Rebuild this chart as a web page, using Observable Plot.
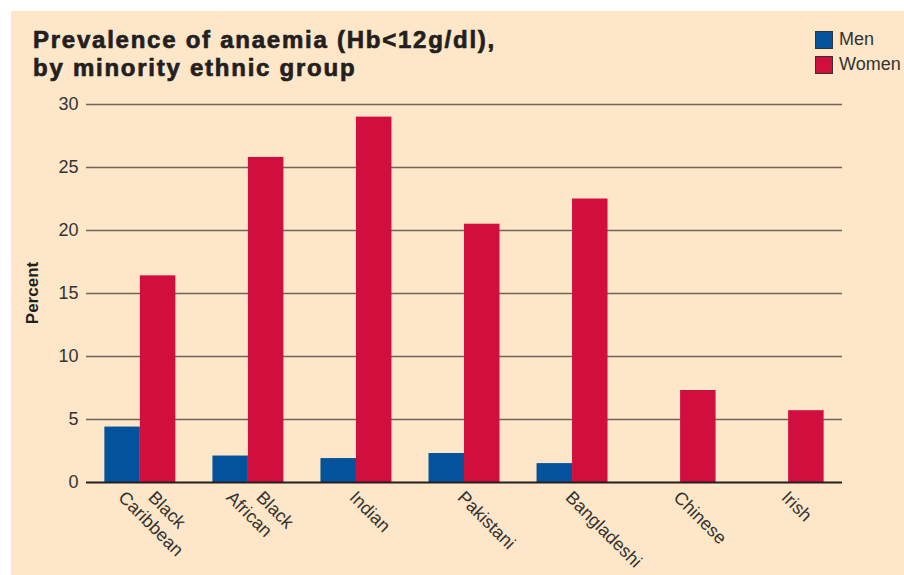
<!DOCTYPE html>
<html><head><meta charset="utf-8">
<script src="https://cdn.jsdelivr.net/npm/d3@7"></script>
<script src="https://cdn.jsdelivr.net/npm/@observablehq/plot@0.6"></script>
<style>
html,body{margin:0;padding:0;background:#fff;}
#card{position:absolute;left:11px;top:11px;width:893px;height:564px;background:#fee6c8;font-family:"Liberation Sans",Arial,sans-serif;overflow:hidden}
#title{position:absolute;left:22px;top:15px;font-size:24px;line-height:28px;font-weight:bold;color:#231f20;letter-spacing:1.75px;-webkit-text-stroke:0.7px #231f20;white-space:nowrap}
#legend{position:absolute;left:804px;top:16px;font-size:18px;color:#333}
.item{display:flex;align-items:center;height:25px}
.sw{width:18px;height:18px;box-sizing:border-box;border:1px solid #333;margin-right:6px}
#ylab{position:absolute;left:22px;top:282px;transform:translate(-50%,-50%) rotate(-90deg);font-weight:bold;font-size:17px;color:#231f20;white-space:nowrap}
#chart{position:absolute;left:0;top:77px}
</style></head><body>
<div id="card">
 <div id="title">Prevalence of anaemia (Hb&lt;12g/dl),<br>by minority ethnic group</div>
 <div id="legend"></div>
 <div id="ylab">Percent</div>
 <div id="chart"></div>
</div>
<script>
const groups = ["Black Caribbean","Black African","Indian","Pakistani","Bangladeshi","Chinese","Irish"];
const tickLabels = ["Black\nCaribbean","Black\nAfrican","Indian","Pakistani","Bangladeshi","Chinese","Irish"];
const men = [4.4, 2.1, 1.9, 2.3, 1.5, 0, 0];
const women = [16.4, 25.8, 29.0, 20.5, 22.5, 7.3, 5.7];
const sexes = ["Men","Women"];
const colors = ["#02539b","#d10f3f"];
const yTicks = [0,5,10,15,20,25,30];

const menData = groups.map((g,i)=>({group:g, sex:"Men", value:men[i]}));
const womenData = groups.map((g,i)=>({group:g, sex:"Women", value:women[i]}));

const legend = document.getElementById("legend");
sexes.forEach((s,i)=>{
  const it = document.createElement("div"); it.className="item";
  const sw = document.createElement("div"); sw.className="sw"; sw.style.background = colors[i];
  const t = document.createElement("span"); t.textContent = s;
  it.appendChild(sw); it.appendChild(t); legend.appendChild(it);
});

const W = 893, H = 487, mL = 75, mR = 62, mT = 16, mB = 93;
const xOpts = {domain:groups, paddingInner:0.343, paddingOuter:0.17, round:false};
const bw = Plot.scale({x:{type:"band", ...xOpts, range:[mL, W-mR]}}).bandwidth;

const lines = g => tickLabels[groups.indexOf(g)].split("\n");
const single = groups.filter(g => lines(g).length === 1);
const double = groups.filter(g => lines(g).length === 2);
const axisOpts = {anchor:"bottom", tickRotate:45, tickSize:0, tickPadding:12, fontSize:18, label:null};

const chart = Plot.plot({
  width:W, height:H, marginTop:mT, marginBottom:mB, marginLeft:mL, marginRight:mR,
  style:{background:"transparent", fontFamily:"Liberation Sans, Arial, sans-serif", fontSize:"18px", color:"#333"},
  x:{...xOpts, label:null, axis:null},
  y:{domain:[0,30], label:null, axis:null},
  color:{domain:sexes, range:colors},
  marks:[
    Plot.ruleY(yTicks.filter(d=>d>0), {stroke:"#6e665d", strokeWidth:1.5}),
    Plot.barY(menData, {x:"group", y:"value", fill:"sex", insetRight:bw/2}),
    Plot.barY(womenData, {x:"group", y:"value", fill:"sex", insetLeft:bw/2}),
    Plot.ruleY([0], {stroke:"#231f20", strokeWidth:2}),
    Plot.axisY({ticks:yTicks, tickSize:0, tickPadding:8, fontSize:18, label:null}),
    Plot.axisX({...axisOpts, ticks:single, dx:-4, tickFormat:g=>lines(g)[0]}),
    Plot.axisX({...axisOpts, ticks:double, dx:11, tickFormat:g=>lines(g)[0]}),
    Plot.axisX({...axisOpts, ticks:double, dx:-19, tickFormat:g=>lines(g)[1]})
  ]
});
document.getElementById("chart").appendChild(chart);
</script>
</body></html>
